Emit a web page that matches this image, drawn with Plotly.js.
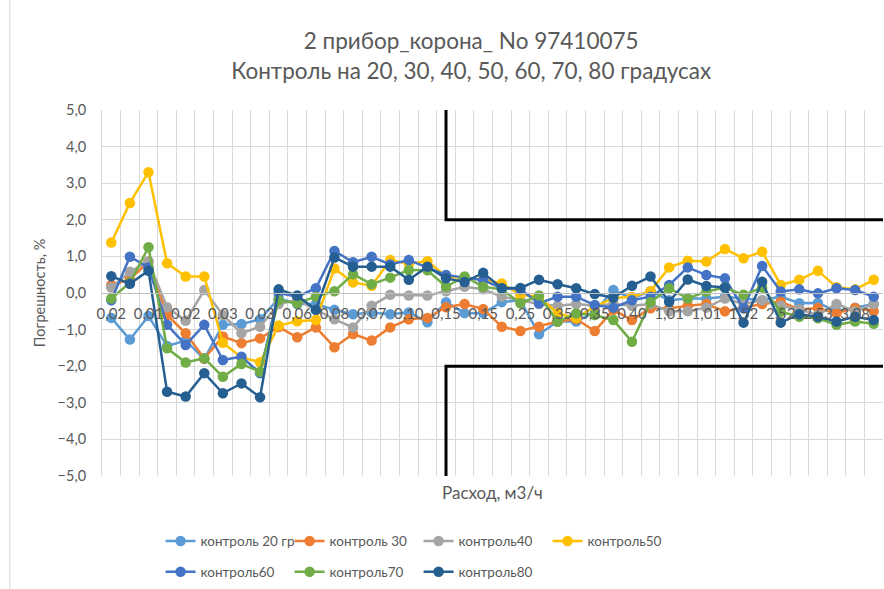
<!DOCTYPE html>
<html>
<head>
<meta charset="utf-8">
<script src="https://cdn.plot.ly/plotly-3.0.1.min.js"></script>
<style>html,body{margin:0;padding:0;background:#fff;}#chart{width:884px;height:589px;}</style>
</head>
<body>
<div id="chart"></div>
<script>
// category index 0..41; every second category is labelled
const tickLabels = ["0,02","0,01","0,02","0,03","0,03","0,06","0,08","0,07","0,10","0,15","0,15","0,25","0,35","0,35","0,40","1,01","1,01","1,52","2,52","2,53","3,08"];

const seriesNames = ["контроль 20 гр","контроль 30","контроль40","контроль50","контроль60","контроль70","контроль80"];
const seriesColors = ["#5B9BD5","#ED7D31","#A5A5A5","#FFC000","#4472C4","#70AD47","#255E91"];

const c20 = [-0.68,-1.27,-0.63,-1.45,-1.30,-1.80,-0.87,-0.85,-0.72,-0.15,
             -0.30,-0.30,-0.46,-0.58,-0.53,-0.58,-0.53,-0.80,-0.25,-0.55,
             -0.55,-0.25,-0.20,-1.13,-0.78,-0.78,-0.52,0.08,-0.15,0.05,
             -0.20,-0.15,-0.15,-0.10,-0.15,-0.20,-0.10,-0.28,-0.27,-0.50,-0.40,-0.30];
const c30 = [0.22,0.37,0.86,-0.60,-1.10,-1.79,-1.19,-1.37,-1.24,-0.93,
             -1.21,-0.94,-1.48,-1.12,-1.30,-0.94,-0.72,-0.68,-0.39,-0.30,
             -0.44,-0.92,-1.04,-0.92,-0.78,-0.71,-1.04,-0.46,-0.74,-0.42,
             -0.42,-0.35,-0.30,-0.50,-0.40,-0.30,-0.24,-0.45,-0.41,-0.55,-0.41,-0.50];
const c40 = [0.15,0.58,0.86,-0.39,-0.76,0.08,-0.60,-1.10,-0.92,-0.30,
             -0.19,-0.46,-0.72,-0.94,-0.35,-0.05,-0.07,-0.07,0.05,0.17,
             0.10,-0.10,-0.20,-0.30,-0.35,-0.30,-0.35,-0.30,-0.35,-0.30,
             -0.50,-0.50,-0.40,-0.15,-0.30,-0.20,-0.35,-0.45,-0.60,-0.30,-0.50,-0.30];
const c50 = [1.38,2.46,3.30,0.81,0.45,0.45,-1.36,-1.76,-1.89,-0.89,
             -0.77,-0.74,0.67,0.29,0.20,0.90,0.80,0.87,0.45,0.40,
             0.37,0.26,-0.05,-0.10,-0.56,-0.68,-0.37,-0.14,-0.10,0.05,
             0.70,0.88,0.86,1.20,0.95,1.13,0.22,0.36,0.61,0.16,0.10,0.36];
const c60 = [-0.20,0.99,0.70,-0.87,-1.42,-0.87,-1.83,-1.74,-2.19,0.00,
             -0.10,0.13,1.15,0.84,0.99,0.78,0.90,0.70,0.49,0.42,
             0.35,0.13,0.10,-0.28,-0.10,-0.10,-0.33,-0.40,-0.20,-0.10,
             0.22,0.70,0.49,0.40,-0.42,0.74,0.04,0.10,-0.01,0.13,0.08,-0.10];
const c70 = [-0.15,0.28,1.25,-1.51,-1.90,-1.78,-2.29,-1.94,-2.15,-0.20,
             -0.28,-0.10,0.05,0.51,0.24,0.42,0.63,0.62,0.17,0.45,
             0.17,0.10,-0.28,-0.07,-0.78,-0.56,-0.60,-0.74,-1.33,-0.25,
             0.13,-0.15,0.04,0.15,-0.05,0.15,-0.51,-0.65,-0.69,-0.87,-0.78,-0.84];
const c80 = [0.46,0.25,0.61,-2.70,-2.83,-2.19,-2.74,-2.47,-2.85,0.10,
             -0.07,-0.46,0.97,0.72,0.72,0.72,0.36,0.72,0.40,0.30,
             0.55,0.13,0.14,0.36,0.24,0.13,-0.03,-0.13,0.20,0.45,
             -0.24,0.37,0.19,0.15,-0.81,0.31,-0.81,-0.58,-0.65,-0.78,-0.65,-0.74];

// tolerance limit lines (category position, error %)
const upperLimitX = [18,18,41.5];
const upperLimitY = [5,2,2];
const lowerLimitX = [18,18,41.5];
const lowerLimitY = [-5,-2,-2];

const allSeries = [c20,c30,c40,c50,c60,c70,c80];
const xIdx = c20.map((_, i) => i);
const tickVals = tickLabels.map((_, i) => i * 2);

const traces = [];
traces.push({x: upperLimitX, y: upperLimitY, mode: 'lines', line: {color: '#000', width: 3},
             showlegend: false, hoverinfo: 'skip', cliponaxis: false});
traces.push({x: lowerLimitX, y: lowerLimitY, mode: 'lines', line: {color: '#000', width: 3},
             showlegend: false, hoverinfo: 'skip', cliponaxis: false});
allSeries.forEach((s, i) => {
  traces.push({
    x: xIdx, y: s, name: seriesNames[i], mode: 'lines+markers',
    line: {color: seriesColors[i], width: 2.5},
    marker: {color: seriesColors[i], size: 10.5},
    legend: i < 4 ? 'legend' : 'legend2',
    cliponaxis: false
  });
});

const FONT = 'Lato, "Open Sans", sans-serif';
const legendCommon = {orientation: 'h', xanchor: 'left', yanchor: 'middle',
  font: {family: FONT, size: 13.5, color: '#595959'}, entrywidth: 84,
  bgcolor: 'rgba(0,0,0,0)'};

const layout = {
  width: 884, height: 589,
  margin: {l: 102, r: 1, t: 110, b: 113},
  paper_bgcolor: '#fff', plot_bgcolor: '#fff',
  separators: ', ',
  font: {family: FONT, color: '#595959'},
  title: {
    text: '2 прибор_корона_ No 97410075<br>Контроль на 20, 30, 40, 50, 60, 70, 80 градусах',
    font: {family: FONT, size: 22.5, color: '#595959'},
    xref: 'container', x: 0.533, xanchor: 'center',
    yref: 'container', y: 0.916, yanchor: 'top'
  },
  xaxis: {
    range: [-0.5, 41.5], tickmode: 'array', tickvals: tickVals, ticktext: tickLabels,
    showgrid: false, zeroline: false,
    minor: {tickmode: 'linear', tick0: -0.5, dtick: 1, showgrid: true, gridcolor: '#D9D9D9', gridwidth: 1, ticks: ''},
    anchor: 'free', position: 0.5,
    showline: true, linecolor: '#BFBFBF', linewidth: 1,
    ticks: 'outside', ticklen: 7, tickcolor: 'rgba(0,0,0,0)',
    tickfont: {family: FONT, size: 15, color: '#595959'}
  },
  yaxis: {
    range: [-5, 5], tickmode: 'linear', tick0: 0, dtick: 1, tickformat: '.1f',
    showgrid: true, gridcolor: '#D9D9D9', gridwidth: 1, zeroline: false,
    showline: true, linecolor: '#D9D9D9',
    ticks: 'outside', ticklen: 12, tickcolor: 'rgba(0,0,0,0)',
    tickfont: {family: FONT, size: 14.5, color: '#595959'},
    title: {text: 'Погрешность, %', font: {family: FONT, size: 14.5, color: '#595959'}, standoff: 8}
  },
  legend: Object.assign({x: 0.075, y: -0.178}, legendCommon),
  legend2: Object.assign({x: 0.075, y: -0.262}, legendCommon),
  annotations: [{
    text: 'Расход, м3/ч', xref: 'paper', yref: 'paper', x: 0.5, y: -0.044,
    xanchor: 'center', yanchor: 'middle', showarrow: false,
    font: {family: FONT, size: 17, color: '#595959'}
  }],
  shapes: [{type: 'line', xref: 'paper', yref: 'paper', x0: -0.118, x1: -0.118, y0: -0.31, y1: 1.31,
            line: {color: '#D9D9D9', width: 1}}]
};

Plotly.newPlot('chart', traces, layout, {displayModeBar: false, staticPlot: true});
</script>
</body>
</html>
